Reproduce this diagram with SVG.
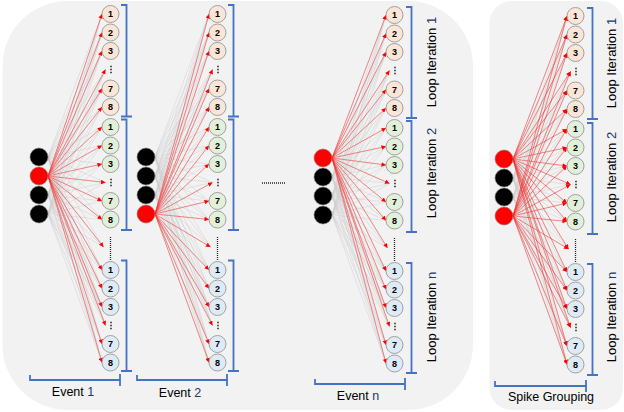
<svg xmlns="http://www.w3.org/2000/svg" width="624" height="412" viewBox="0 0 624 412">
<style>
.panel{fill:#f2f2f2}
.g{stroke:#c8c8c8;stroke-width:.5;fill:none;opacity:.85}
.r line{stroke:#ff2020;stroke-opacity:.6;stroke-width:.8;marker-end:url(#ah)}
.nb{fill:#000;stroke:#7f7f7f;stroke-width:.6}
.nr{fill:#ff0000;stroke:#7f7f7f;stroke-width:.6}
.o circle{stroke:#a0a0a0;stroke-width:1}
.l1 circle{fill:#fbe5d6}
.l2 circle{fill:#e2f0d9}
.l3 circle{fill:#deebf7}
.o text{font-family:"Liberation Sans",Arial,sans-serif;font-weight:bold;font-size:9px;text-anchor:middle;fill:#000}
.br{fill:none;stroke:#4472c4;stroke-width:1.8}
.vd{stroke:#222;stroke-width:1.5;stroke-dasharray:1.5 1.5}
.md{stroke:#222;stroke-width:1.3;stroke-dasharray:1 1}
.lab{font-family:"Liberation Sans",Arial,sans-serif;font-size:13px;fill:#000;text-anchor:middle}
.ev{font-family:"Liberation Sans",Arial,sans-serif;font-size:12.5px;fill:#000;text-anchor:middle}
.num{fill:#203864}
</style>
<defs>
<marker id="ah" viewBox="0 0 10 10" refX="10" refY="5" markerWidth="5" markerHeight="4.5" markerUnits="userSpaceOnUse" orient="auto">
<path d="M0 0L10 5L0 10z" fill="#ff0000"/>
</marker>
<path id="mesh" class="g" d="M48 157L102 14M48 157L102 32.5M48 157L102 51M48 157L105.5 69.5M48 157L102 88.5M48 157L102 107M48 157L102 127M48 157L102 145.5M48 157L102 164M48 157L105.5 182.5M48 157L102 201M48 157L102 219.5M48 157L103.5 247M48 157L102 270M48 157L102 288.5M48 157L102 307M48 157L105.5 325.5M48 157L102 344M48 157L102 362.5
M48 176L102 14M48 176L102 32.5M48 176L102 51M48 176L105.5 69.5M48 176L102 88.5M48 176L102 107M48 176L102 127M48 176L102 145.5M48 176L102 164M48 176L105.5 182.5M48 176L102 201M48 176L102 219.5M48 176L103.5 247M48 176L102 270M48 176L102 288.5M48 176L102 307M48 176L105.5 325.5M48 176L102 344M48 176L102 362.5
M48 195L102 14M48 195L102 32.5M48 195L102 51M48 195L105.5 69.5M48 195L102 88.5M48 195L102 107M48 195L102 127M48 195L102 145.5M48 195L102 164M48 195L105.5 182.5M48 195L102 201M48 195L102 219.5M48 195L103.5 247M48 195L102 270M48 195L102 288.5M48 195L102 307M48 195L105.5 325.5M48 195L102 344M48 195L102 362.5
M48 214L102 14M48 214L102 32.5M48 214L102 51M48 214L105.5 69.5M48 214L102 88.5M48 214L102 107M48 214L102 127M48 214L102 145.5M48 214L102 164M48 214L105.5 182.5M48 214L102 201M48 214L102 219.5M48 214L103.5 247M48 214L102 270M48 214L102 288.5M48 214L102 307M48 214L105.5 325.5M48 214L102 344M48 214L102 362.5"/>
<g id="fan0" class="r">
<line x1="48" y1="157" x2="102" y2="14"/><line x1="48" y1="157" x2="102" y2="32.5"/><line x1="48" y1="157" x2="102" y2="51"/><line x1="48" y1="157" x2="105.5" y2="69.5"/><line x1="48" y1="157" x2="102" y2="88.5"/><line x1="48" y1="157" x2="102" y2="107"/>
<line x1="48" y1="157" x2="102" y2="127"/><line x1="48" y1="157" x2="102" y2="145.5"/><line x1="48" y1="157" x2="102" y2="164"/><line x1="48" y1="157" x2="105.5" y2="182.5"/><line x1="48" y1="157" x2="102" y2="201"/><line x1="48" y1="157" x2="102" y2="219.5"/>
<line x1="48" y1="157" x2="103.5" y2="247"/>
<line x1="48" y1="157" x2="102" y2="270"/><line x1="48" y1="157" x2="102" y2="288.5"/><line x1="48" y1="157" x2="102" y2="307"/><line x1="48" y1="157" x2="105.5" y2="325.5"/><line x1="48" y1="157" x2="102" y2="344"/><line x1="48" y1="157" x2="102" y2="362.5"/>
</g>
<g id="fan1" class="r">
<line x1="48" y1="176" x2="102" y2="14"/><line x1="48" y1="176" x2="102" y2="32.5"/><line x1="48" y1="176" x2="102" y2="51"/><line x1="48" y1="176" x2="105.5" y2="69.5"/><line x1="48" y1="176" x2="102" y2="88.5"/><line x1="48" y1="176" x2="102" y2="107"/>
<line x1="48" y1="176" x2="102" y2="127"/><line x1="48" y1="176" x2="102" y2="145.5"/><line x1="48" y1="176" x2="102" y2="164"/><line x1="48" y1="176" x2="105.5" y2="182.5"/><line x1="48" y1="176" x2="102" y2="201"/><line x1="48" y1="176" x2="102" y2="219.5"/>
<line x1="48" y1="176" x2="103.5" y2="247"/>
<line x1="48" y1="176" x2="102" y2="270"/><line x1="48" y1="176" x2="102" y2="288.5"/><line x1="48" y1="176" x2="102" y2="307"/><line x1="48" y1="176" x2="105.5" y2="325.5"/><line x1="48" y1="176" x2="102" y2="344"/><line x1="48" y1="176" x2="102" y2="362.5"/>
</g>
<g id="fan3" class="r">
<line x1="48" y1="214" x2="102" y2="14"/><line x1="48" y1="214" x2="102" y2="32.5"/><line x1="48" y1="214" x2="102" y2="51"/><line x1="48" y1="214" x2="105.5" y2="69.5"/><line x1="48" y1="214" x2="102" y2="88.5"/><line x1="48" y1="214" x2="102" y2="107"/>
<line x1="48" y1="214" x2="102" y2="127"/><line x1="48" y1="214" x2="102" y2="145.5"/><line x1="48" y1="214" x2="102" y2="164"/><line x1="48" y1="214" x2="105.5" y2="182.5"/><line x1="48" y1="214" x2="102" y2="201"/><line x1="48" y1="214" x2="102" y2="219.5"/>
<line x1="48" y1="214" x2="103.5" y2="247"/>
<line x1="48" y1="214" x2="102" y2="270"/><line x1="48" y1="214" x2="102" y2="288.5"/><line x1="48" y1="214" x2="102" y2="307"/><line x1="48" y1="214" x2="105.5" y2="325.5"/><line x1="48" y1="214" x2="102" y2="344"/><line x1="48" y1="214" x2="102" y2="362.5"/>
</g>
</defs>

<rect class="panel" x="2.5" y="1" width="470.5" height="409" rx="65"/>
<rect class="panel" x="489.5" y="1" width="133.5" height="409" rx="22"/>

<g id="connectors">
<use href="#mesh"/>
<use href="#mesh" transform="translate(107 0)"/>
<use href="#mesh" transform="translate(284 1)"/>
<use href="#mesh" transform="translate(465 2)"/>
<use href="#fan1"/>
<use href="#fan3" transform="translate(107 0)"/>
<use href="#fan0" transform="translate(284 1)"/>
<use href="#fan0" transform="translate(465 2)"/>
<use href="#fan3" transform="translate(465 2)"/>
</g>

<g id="event1">
<g id="e1-in1"><circle class="nb" cx="39" cy="157" r="9"/></g>
<g id="e1-in2"><circle class="nr" cx="39" cy="176" r="9"/></g>
<g id="e1-in3"><circle class="nb" cx="39" cy="195" r="9"/></g>
<g id="e1-in4"><circle class="nb" cx="39" cy="214" r="9"/></g>
<g class="o l1">
<g id="e1-a1"><circle cx="110.5" cy="14" r="8.5"/><text x="110.5" y="17.2">1</text></g>
<g id="e1-a2"><circle cx="110.5" cy="32.5" r="8.5"/><text x="110.5" y="35.7">2</text></g>
<g id="e1-a3"><circle cx="110.5" cy="51" r="8.5"/><text x="110.5" y="54.2">3</text></g>
<g id="e1-a7"><circle cx="110.5" cy="88.5" r="8.5"/><text x="110.5" y="91.7">7</text></g>
<g id="e1-a8"><circle cx="110.5" cy="107" r="8.5"/><text x="110.5" y="110.2">8</text></g>
</g>
<g class="o l2">
<g id="e1-b1"><circle cx="110.5" cy="127" r="8.5"/><text x="110.5" y="130.2">1</text></g>
<g id="e1-b2"><circle cx="110.5" cy="145.5" r="8.5"/><text x="110.5" y="148.7">2</text></g>
<g id="e1-b3"><circle cx="110.5" cy="164" r="8.5"/><text x="110.5" y="167.2">3</text></g>
<g id="e1-b7"><circle cx="110.5" cy="201" r="8.5"/><text x="110.5" y="204.2">7</text></g>
<g id="e1-b8"><circle cx="110.5" cy="219.5" r="8.5"/><text x="110.5" y="222.7">8</text></g>
</g>
<g class="o l3">
<g id="e1-c1"><circle cx="110.5" cy="270" r="8.5"/><text x="110.5" y="273.2">1</text></g>
<g id="e1-c2"><circle cx="110.5" cy="288.5" r="8.5"/><text x="110.5" y="291.7">2</text></g>
<g id="e1-c3"><circle cx="110.5" cy="307" r="8.5"/><text x="110.5" y="310.2">3</text></g>
<g id="e1-c7"><circle cx="110.5" cy="344" r="8.5"/><text x="110.5" y="347.2">7</text></g>
<g id="e1-c8"><circle cx="110.5" cy="362.5" r="8.5"/><text x="110.5" y="365.7">8</text></g>
</g>
<line class="vd" x1="111" y1="65.75" x2="111" y2="73.25"/>
<line class="vd" x1="111" y1="178.75" x2="111" y2="186.25"/>
<line class="vd" x1="111" y1="321.75" x2="111" y2="329.25"/>
<line class="md" x1="110.5" y1="237" x2="110.5" y2="260"/>
<path class="br" d="M121 5H126.5V116.5M121 116.5H132M121 119.5H126.5V230M121 230H132M121 260.5H126.5V371M121 371H132"/>
</g>

<g id="event2" transform="translate(107 0)">
<g id="e2-in1"><circle class="nb" cx="39" cy="157" r="9"/></g>
<g id="e2-in2"><circle class="nb" cx="39" cy="176" r="9"/></g>
<g id="e2-in3"><circle class="nb" cx="39" cy="195" r="9"/></g>
<g id="e2-in4"><circle class="nr" cx="39" cy="214" r="9"/></g>
<g class="o l1">
<g id="e2-a1"><circle cx="110.5" cy="14" r="8.5"/><text x="110.5" y="17.2">1</text></g>
<g id="e2-a2"><circle cx="110.5" cy="32.5" r="8.5"/><text x="110.5" y="35.7">2</text></g>
<g id="e2-a3"><circle cx="110.5" cy="51" r="8.5"/><text x="110.5" y="54.2">3</text></g>
<g id="e2-a7"><circle cx="110.5" cy="88.5" r="8.5"/><text x="110.5" y="91.7">7</text></g>
<g id="e2-a8"><circle cx="110.5" cy="107" r="8.5"/><text x="110.5" y="110.2">8</text></g>
</g>
<g class="o l2">
<g id="e2-b1"><circle cx="110.5" cy="127" r="8.5"/><text x="110.5" y="130.2">1</text></g>
<g id="e2-b2"><circle cx="110.5" cy="145.5" r="8.5"/><text x="110.5" y="148.7">2</text></g>
<g id="e2-b3"><circle cx="110.5" cy="164" r="8.5"/><text x="110.5" y="167.2">3</text></g>
<g id="e2-b7"><circle cx="110.5" cy="201" r="8.5"/><text x="110.5" y="204.2">7</text></g>
<g id="e2-b8"><circle cx="110.5" cy="219.5" r="8.5"/><text x="110.5" y="222.7">8</text></g>
</g>
<g class="o l3">
<g id="e2-c1"><circle cx="110.5" cy="270" r="8.5"/><text x="110.5" y="273.2">1</text></g>
<g id="e2-c2"><circle cx="110.5" cy="288.5" r="8.5"/><text x="110.5" y="291.7">2</text></g>
<g id="e2-c3"><circle cx="110.5" cy="307" r="8.5"/><text x="110.5" y="310.2">3</text></g>
<g id="e2-c7"><circle cx="110.5" cy="344" r="8.5"/><text x="110.5" y="347.2">7</text></g>
<g id="e2-c8"><circle cx="110.5" cy="362.5" r="8.5"/><text x="110.5" y="365.7">8</text></g>
</g>
<line class="vd" x1="111" y1="65.75" x2="111" y2="73.25"/>
<line class="vd" x1="111" y1="178.75" x2="111" y2="186.25"/>
<line class="vd" x1="111" y1="321.75" x2="111" y2="329.25"/>
<line class="md" x1="110.5" y1="237" x2="110.5" y2="260"/>
<path class="br" d="M121 5H126.5V116.5M121 116.5H132M121 119.5H126.5V230M121 230H132M121 260.5H126.5V371M121 371H132"/>
</g>

<g id="eventn" transform="translate(284 1)">
<g id="en-in1"><circle class="nr" cx="39" cy="157" r="9"/></g>
<g id="en-in2"><circle class="nb" cx="39" cy="176" r="9"/></g>
<g id="en-in3"><circle class="nb" cx="39" cy="195" r="9"/></g>
<g id="en-in4"><circle class="nb" cx="39" cy="214" r="9"/></g>
<g class="o l1">
<g id="en-a1"><circle cx="110.5" cy="14" r="8.5"/><text x="110.5" y="17.2">1</text></g>
<g id="en-a2"><circle cx="110.5" cy="32.5" r="8.5"/><text x="110.5" y="35.7">2</text></g>
<g id="en-a3"><circle cx="110.5" cy="51" r="8.5"/><text x="110.5" y="54.2">3</text></g>
<g id="en-a7"><circle cx="110.5" cy="88.5" r="8.5"/><text x="110.5" y="91.7">7</text></g>
<g id="en-a8"><circle cx="110.5" cy="107" r="8.5"/><text x="110.5" y="110.2">8</text></g>
</g>
<g class="o l2">
<g id="en-b1"><circle cx="110.5" cy="127" r="8.5"/><text x="110.5" y="130.2">1</text></g>
<g id="en-b2"><circle cx="110.5" cy="145.5" r="8.5"/><text x="110.5" y="148.7">2</text></g>
<g id="en-b3"><circle cx="110.5" cy="164" r="8.5"/><text x="110.5" y="167.2">3</text></g>
<g id="en-b7"><circle cx="110.5" cy="201" r="8.5"/><text x="110.5" y="204.2">7</text></g>
<g id="en-b8"><circle cx="110.5" cy="219.5" r="8.5"/><text x="110.5" y="222.7">8</text></g>
</g>
<g class="o l3">
<g id="en-c1"><circle cx="110.5" cy="270" r="8.5"/><text x="110.5" y="273.2">1</text></g>
<g id="en-c2"><circle cx="110.5" cy="288.5" r="8.5"/><text x="110.5" y="291.7">2</text></g>
<g id="en-c3"><circle cx="110.5" cy="307" r="8.5"/><text x="110.5" y="310.2">3</text></g>
<g id="en-c7"><circle cx="110.5" cy="344" r="8.5"/><text x="110.5" y="347.2">7</text></g>
<g id="en-c8"><circle cx="110.5" cy="362.5" r="8.5"/><text x="110.5" y="365.7">8</text></g>
</g>
<line class="vd" x1="111" y1="65.75" x2="111" y2="73.25"/>
<line class="vd" x1="111" y1="178.75" x2="111" y2="186.25"/>
<line class="vd" x1="111" y1="321.75" x2="111" y2="329.25"/>
<line class="md" x1="110.5" y1="237" x2="110.5" y2="260"/>
<path class="br" d="M122 6H127.5V117M122 117H133M122 120H127.5V231M122 231H133M122 262H127.5V372M122 372H133"/>
</g>

<g id="spikegroup" transform="translate(465 2)">
<g id="sg-in1"><circle class="nr" cx="39" cy="157" r="9"/></g>
<g id="sg-in2"><circle class="nb" cx="39" cy="176" r="9"/></g>
<g id="sg-in3"><circle class="nb" cx="39" cy="195" r="9"/></g>
<g id="sg-in4"><circle class="nr" cx="39" cy="214" r="9"/></g>
<g class="o l1">
<g id="sg-a1"><circle cx="110.5" cy="14" r="8.5"/><text x="110.5" y="17.2">1</text></g>
<g id="sg-a2"><circle cx="110.5" cy="32.5" r="8.5"/><text x="110.5" y="35.7">2</text></g>
<g id="sg-a3"><circle cx="110.5" cy="51" r="8.5"/><text x="110.5" y="54.2">3</text></g>
<g id="sg-a7"><circle cx="110.5" cy="88.5" r="8.5"/><text x="110.5" y="91.7">7</text></g>
<g id="sg-a8"><circle cx="110.5" cy="107" r="8.5"/><text x="110.5" y="110.2">8</text></g>
</g>
<g class="o l2">
<g id="sg-b1"><circle cx="110.5" cy="127" r="8.5"/><text x="110.5" y="130.2">1</text></g>
<g id="sg-b2"><circle cx="110.5" cy="145.5" r="8.5"/><text x="110.5" y="148.7">2</text></g>
<g id="sg-b3"><circle cx="110.5" cy="164" r="8.5"/><text x="110.5" y="167.2">3</text></g>
<g id="sg-b7"><circle cx="110.5" cy="201" r="8.5"/><text x="110.5" y="204.2">7</text></g>
<g id="sg-b8"><circle cx="110.5" cy="219.5" r="8.5"/><text x="110.5" y="222.7">8</text></g>
</g>
<g class="o l3">
<g id="sg-c1"><circle cx="110.5" cy="270" r="8.5"/><text x="110.5" y="273.2">1</text></g>
<g id="sg-c2"><circle cx="110.5" cy="288.5" r="8.5"/><text x="110.5" y="291.7">2</text></g>
<g id="sg-c3"><circle cx="110.5" cy="307" r="8.5"/><text x="110.5" y="310.2">3</text></g>
<g id="sg-c7"><circle cx="110.5" cy="344" r="8.5"/><text x="110.5" y="347.2">7</text></g>
<g id="sg-c8"><circle cx="110.5" cy="362.5" r="8.5"/><text x="110.5" y="365.7">8</text></g>
</g>
<line class="vd" x1="111" y1="65.75" x2="111" y2="73.25"/>
<line class="vd" x1="111" y1="178.75" x2="111" y2="186.25"/>
<line class="vd" x1="111" y1="321.75" x2="111" y2="329.25"/>
<line class="md" x1="110.5" y1="237" x2="110.5" y2="260"/>
<path class="br" d="M122 6H127.5V117M122 117H133M122 121H127.5V232M122 232H133M122 262H127.5V373M122 373H133"/>
</g>

<g id="labels">
<line class="md" x1="262" y1="183" x2="286" y2="183"/>
<path class="br" d="M30 375V380H120M120 374V386"/>
<text class="ev" x="73" y="396">Event <tspan class="num">1</tspan></text>
<path class="br" d="M137 375V380H227M227 374V386"/>
<text class="ev" x="180" y="396.5">Event <tspan class="num">2</tspan></text>
<path class="br" d="M315 379V384H405M405 378V390"/>
<text class="ev" x="358" y="399.5">Event <tspan class="num">n</tspan></text>
<path class="br" d="M495 381V386H586M586 380V392"/>
<text class="ev" x="551" y="401">Spike Grouping</text>
<text class="lab" transform="translate(435.5 62) rotate(-90)">Loop Iteration <tspan class="num">1</tspan></text>
<text class="lab" transform="translate(435.5 173) rotate(-90)">Loop Iteration <tspan class="num">2</tspan></text>
<text class="lab" transform="translate(435.5 317) rotate(-90)">Loop Iteration <tspan class="num">n</tspan></text>
<text class="lab" transform="translate(616 63) rotate(-90)">Loop Iteration <tspan class="num">1</tspan></text>
<text class="lab" transform="translate(616 177) rotate(-90)">Loop Iteration <tspan class="num">2</tspan></text>
<text class="lab" transform="translate(616 317) rotate(-90)">Loop Iteration <tspan class="num">n</tspan></text>
</g>
</svg>
